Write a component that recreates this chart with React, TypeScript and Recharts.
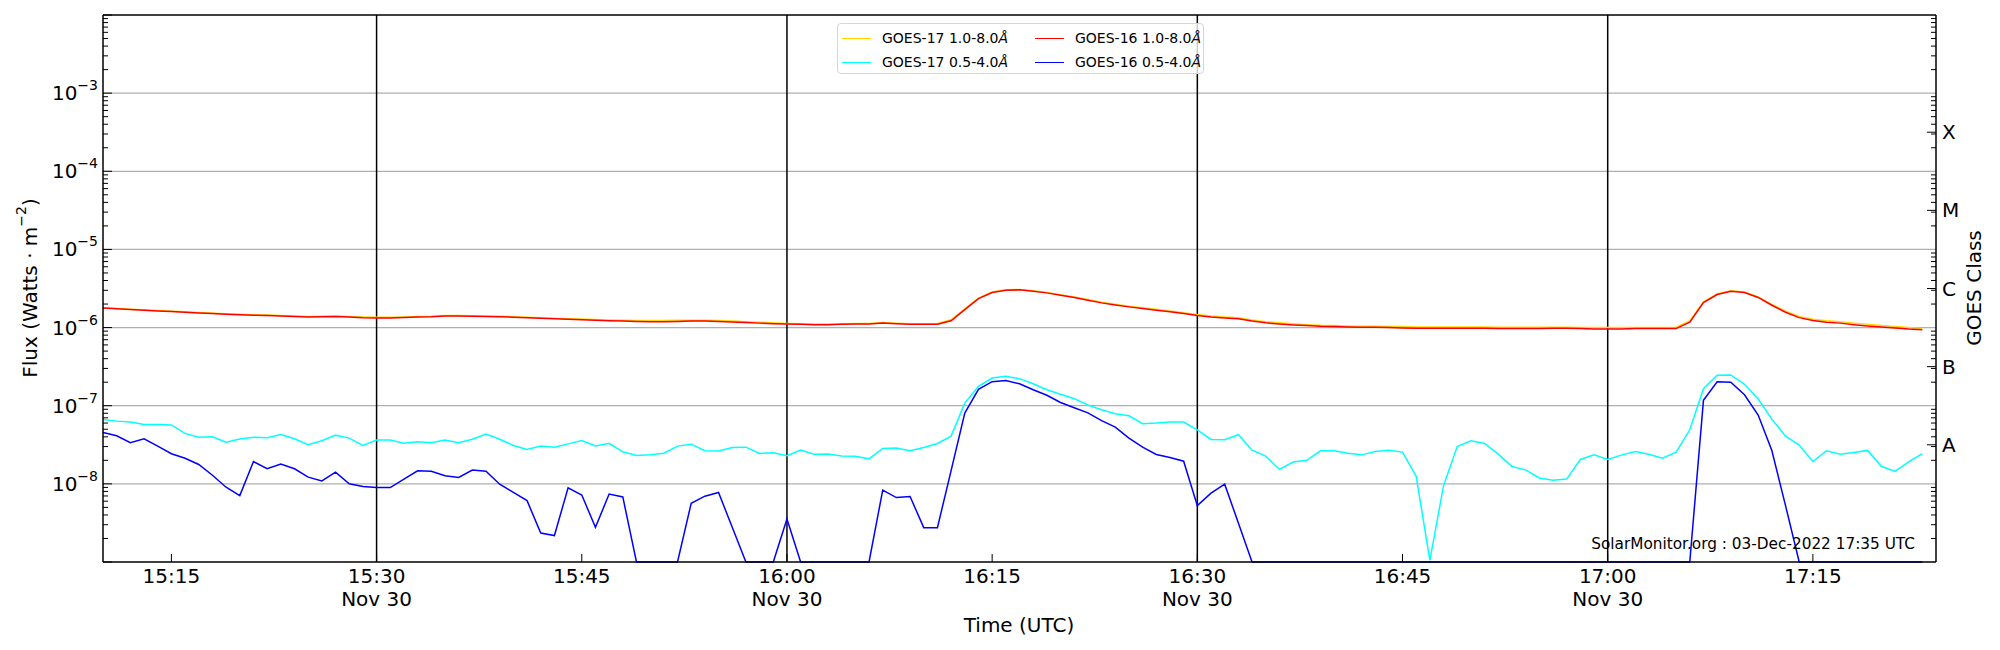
import { LineChart, Line, XAxis, YAxis, ReferenceLine, Legend } from "recharts";

const FONT = "DejaVu Sans, Verdana, sans-serif";

// one sample per minute, starting 15:10 UTC on Nov 30
// 1.0-8.0 Å channels, in units of 1e-6 W m^-2
const goes17Long = [
  1.8, 1.76, 1.72, 1.69, 1.65, 1.62, 1.59, 1.56, 1.53, 1.5, 1.48, 1.46, 1.45, 1.43, 1.41, 1.39, 1.4, 1.41, 1.39, 1.37, 1.36, 1.36, 1.37, 1.39,
  1.4, 1.43, 1.43, 1.42, 1.41, 1.4, 1.38, 1.36, 1.34, 1.32, 1.3, 1.29, 1.27, 1.25, 1.24, 1.23, 1.23, 1.23, 1.24, 1.24, 1.24, 1.23, 1.21, 1.19,
  1.17, 1.15, 1.13, 1.12, 1.11, 1.11, 1.12, 1.13, 1.13, 1.16, 1.14, 1.12, 1.12, 1.13, 1.26, 1.74, 2.38, 2.85, 3.05, 3.07, 2.96, 2.82, 2.64,
  2.47, 2.28, 2.11, 1.99, 1.88, 1.79, 1.71, 1.63, 1.55, 1.47, 1.41, 1.37, 1.34, 1.25, 1.19, 1.15, 1.12, 1.09, 1.07, 1.06, 1.05, 1.04,
  1.04, 1.03, 1.03, 1.02, 1.02, 1.02, 1.02, 1.02, 1.02, 1.01, 1.01, 1.01, 1.01, 1.01, 1.01, 1.0, 1.0, 1.0, 1.0, 1.0, 1.0,
  1.0, 1.01, 1.22, 2.14, 2.7, 2.96, 2.85, 2.47, 1.98, 1.62, 1.39, 1.28, 1.22, 1.19, 1.14, 1.1, 1.06, 1.03, 1.0, 0.97,
];
const goes16Long = [
  1.78, 1.74, 1.7, 1.67, 1.63, 1.6, 1.57, 1.54, 1.51, 1.48, 1.46, 1.44, 1.43, 1.41, 1.39, 1.37, 1.38, 1.39, 1.37, 1.34, 1.33, 1.33, 1.35, 1.37,
  1.38, 1.41, 1.41, 1.4, 1.39, 1.38, 1.36, 1.34, 1.32, 1.3, 1.28, 1.26, 1.24, 1.22, 1.21, 1.2, 1.19, 1.19, 1.2, 1.21, 1.21, 1.2, 1.18, 1.16,
  1.14, 1.12, 1.11, 1.1, 1.09, 1.09, 1.1, 1.11, 1.11, 1.14, 1.12, 1.1, 1.1, 1.1, 1.22, 1.7, 2.35, 2.81, 3.01, 3.04, 2.92, 2.78, 2.6,
  2.43, 2.24, 2.07, 1.95, 1.84, 1.75, 1.67, 1.59, 1.51, 1.43, 1.37, 1.33, 1.3, 1.21, 1.15, 1.11, 1.08, 1.06, 1.04, 1.03, 1.02, 1.01,
  1.01, 1.0, 0.99, 0.98, 0.98, 0.98, 0.98, 0.98, 0.98, 0.97, 0.97, 0.97, 0.97, 0.98, 0.98, 0.97, 0.96, 0.96, 0.96, 0.97, 0.97,
  0.97, 0.97, 1.17, 2.09, 2.65, 2.92, 2.81, 2.43, 1.93, 1.57, 1.34, 1.23, 1.17, 1.14, 1.09, 1.05, 1.02, 0.99, 0.96, 0.94,
];

// 0.5-4.0 Å channels, in units of 1e-8 W m^-2 (0.1 = floor of the plot)
const goes17Short = [
  6.68, 6.35, 6.2, 5.77, 5.77, 5.67, 4.42, 3.96, 4.0, 3.42, 3.74, 3.96, 3.9, 4.28, 3.78, 3.16, 3.56, 4.2, 3.85, 3.1, 3.63, 3.63, 3.3, 3.47,
  3.36, 3.63, 3.37, 3.72, 4.33, 3.72, 3.1, 2.75, 3.04, 2.95, 3.25, 3.59, 3.06, 3.3, 2.57, 2.31, 2.35, 2.47, 3.04, 3.22, 2.65, 2.63, 2.92, 2.95,
  2.45, 2.5, 2.29, 2.7, 2.39, 2.41, 2.27, 2.25, 2.09, 2.84, 2.87, 2.66, 2.92, 3.29, 4.08, 10.8, 17.7, 22.6, 23.8, 22.2, 19.1, 16.0, 14.0,
  12.3, 10.2, 8.9, 7.9, 7.44, 5.88, 6.0, 6.18, 6.18, 4.92, 3.7, 3.67, 4.25, 2.7, 2.26, 1.53, 1.9, 2.0, 2.65, 2.65, 2.47, 2.35,
  2.6, 2.7, 2.55, 1.25, 0.105, 0.95, 3.01, 3.56, 3.29, 2.4, 1.67, 1.51, 1.19, 1.11, 1.15, 2.05, 2.35, 2.05, 2.33, 2.6, 2.39,
  2.13, 2.55, 4.92, 16.5, 24.5, 24.8, 18.8, 12.2, 6.74, 4.08, 3.13, 1.93, 2.65, 2.39, 2.52, 2.68, 1.68, 1.44, 1.91, 2.43,
];
const goes16Short = [
  4.55, 4.12, 3.36, 3.78, 3.04, 2.43, 2.13, 1.77, 1.29, 0.906, 0.708, 1.93, 1.56, 1.79, 1.56, 1.22, 1.09, 1.41, 1.0, 0.924, 0.897, 0.897, 1.15, 1.47,
  1.45, 1.27, 1.21, 1.5, 1.45, 0.99, 0.78, 0.61, 0.235, 0.218, 0.89, 0.72, 0.278, 0.74, 0.68, 0.1, 0.1, 0.1, 0.1, 0.565, 0.695, 0.775, 0.278, 0.1,
  0.1, 0.1, 0.356, 0.1, 0.1, 0.1, 0.1, 0.1, 0.1, 0.83, 0.668, 0.69, 0.275, 0.275, 1.48, 8.05, 16.2, 20.3, 21.0, 19.1, 16.0, 13.6, 11.0,
  9.4, 8.1, 6.43, 5.33, 3.85, 2.95, 2.38, 2.18, 1.95, 0.527, 0.76, 0.99, 0.316, 0.1, 0.1, 0.1, 0.1, 0.1, 0.1, 0.1, 0.1, 0.1,
  0.1, 0.1, 0.1, 0.1, 0.1, 0.1, 0.1, 0.1, 0.1, 0.1, 0.1, 0.1, 0.1, 0.1, 0.1, 0.1, 0.1, 0.1, 0.1, 0.1, 0.1,
  0.1, 0.1, 0.1, 11.7, 20.3, 20.0, 13.8, 7.59, 2.67, 0.527, 0.1, 0.1, 0.1, 0.1, 0.1, 0.1, 0.1, 0.1, 0.1, 0.1,
];

// x axis: minutes after 15:10
const timeTicks = [5, 20, 35, 50, 65, 80, 95, 110, 125];
const timeLabels = ["15:15", "15:30", "15:45", "16:00", "16:15", "16:30", "16:45", "17:00", "17:15"];
const dateTicks = [20, 50, 80, 110];
const dateLabel = "Nov 30";

// y axis
const decades = [-9, -8, -7, -6, -5, -4, -3, -2];
const labelledDecades = [-8, -7, -6, -5, -4, -3];
const minorSteps = [2, 3, 4, 5, 6, 7, 8, 9];
const classExps = [-7.5, -6.5, -5.5, -4.5, -3.5];
const classLabels = ["A", "B", "C", "M", "X"];

const legendEntries = [
  { name: "GOES-17 1.0-8.0", color: "gold" },
  { name: "GOES-16 1.0-8.0", color: "red" },
  { name: "GOES-17 0.5-4.0", color: "cyan" },
  { name: "GOES-16 0.5-4.0", color: "blue" },
];

const data = goes16Long.map((v, i) => ({
  t: i,
  g17Long: goes17Long[i] * 1e-6,
  g16Long: v * 1e-6,
  g17Short: goes17Short[i] * 1e-8,
  g16Short: goes16Short[i] * 1e-8,
}));

const minorTicks = decades.slice(0, -1).flatMap((d) => minorSteps.map((s) => s * 10 ** d));
const fluxTicks = [...decades.map((d) => 10 ** d), ...minorTicks];
const classTicks = [...classExps.map((e) => 10 ** e), ...minorTicks];

const FluxTick = (props: any) => {
  const { x, y, payload } = props;
  const exp = Math.log10(payload.value);
  const e = Math.round(exp);
  const major = Math.abs(exp - e) < 1e-6;
  return (
    <g>
      <line x1={x} y1={y} x2={x + (major ? 9 : 5)} y2={y} stroke="#000" strokeWidth={1} />
      {major && labelledDecades.includes(e) && (
        <text x={x - 5} y={y + 7} textAnchor="end" fontSize={20} fontFamily={FONT} fill="#000">
          10
          <tspan dy={-10} fontSize={14}>
            {"\u2212" + -e}
          </tspan>
        </text>
      )}
    </g>
  );
};

const ClassTick = (props: any) => {
  const { x, y, payload } = props;
  const exp = Math.log10(payload.value);
  const idx = classExps.findIndex((c) => Math.abs(c - exp) < 1e-6);
  return (
    <g>
      <line x1={x} y1={y} x2={x - (idx >= 0 ? 9 : 5)} y2={y} stroke="#000" strokeWidth={1} />
      {idx >= 0 && (
        <text x={x + 6} y={y + 7} fontSize={20} fontFamily={FONT} fill="#000">
          {classLabels[idx]}
        </text>
      )}
    </g>
  );
};

const TimeTick = (props: any) => {
  const { x, y, payload } = props;
  const idx = timeTicks.indexOf(payload.value);
  return (
    <g>
      <line x1={x} y1={y} x2={x} y2={y - 8} stroke="#000" strokeWidth={1} />
      <text x={x} y={y + 21} textAnchor="middle" fontSize={20} fontFamily={FONT} fill="#000">
        {timeLabels[idx]}
      </text>
      {dateTicks.includes(payload.value) && (
        <text x={x} y={y + 44} textAnchor="middle" fontSize={20} fontFamily={FONT} fill="#000">
          {dateLabel}
        </text>
      )}
    </g>
  );
};

const renderLegend = () => (
  <div
    style={{
      width: 367,
      height: 51,
      boxSizing: "border-box",
      border: "1px solid #d6d6d6",
      borderRadius: 4,
      background: "rgba(255,255,255,0.8)",
      display: "grid",
      gridTemplateColumns: "193px 170px",
      padding: "2px 0 0 4px",
      fontFamily: FONT,
      fontSize: 14,
      color: "#000",
    }}
  >
    {legendEntries.map((e) => (
      <div key={e.name} style={{ display: "flex", alignItems: "center", height: 24 }}>
        <span style={{ width: 29, height: 0, borderTop: `1.5px solid ${e.color}`, marginRight: 11 }} />
        <span style={{ whiteSpace: "nowrap" }}>
          {e.name}
          <i>Å</i>
        </span>
      </div>
    ))}
  </div>
);

const frame = { stroke: "#000", strokeWidth: 1.5 };

export default function App() {
  return (
    <div style={{ position: "absolute", left: 0, top: 0, width: 2000, height: 650, background: "#fff" }}>
      <LineChart width={2000} height={650} data={data} margin={{ top: 15, right: 4, bottom: 0, left: 3 }}>
        <XAxis
          dataKey="t"
          type="number"
          domain={[0, 134]}
          ticks={timeTicks}
          interval={0}
          height={88}
          tickSize={0}
          tickMargin={0}
          tickLine={false}
          axisLine={frame}
          tick={<TimeTick />}
        />
        <YAxis
          yAxisId="flux"
          scale="log"
          domain={[1e-9, 1e-2]}
          ticks={fluxTicks}
          interval={0}
          width={100}
          tickSize={0}
          tickMargin={0}
          tickLine={false}
          axisLine={frame}
          tick={<FluxTick />}
        />
        <YAxis
          yAxisId="class"
          orientation="right"
          scale="log"
          domain={[1e-9, 1e-2]}
          allowDataOverflow
          ticks={classTicks}
          interval={0}
          width={60}
          tickSize={0}
          tickMargin={0}
          tickLine={false}
          axisLine={frame}
          tick={<ClassTick />}
        />
        {decades.slice(1, -1).map((d) => (
          <ReferenceLine key={d} yAxisId="flux" y={10 ** d} stroke="#b0b0b0" strokeWidth={1.2} />
        ))}
        <ReferenceLine yAxisId="flux" y={1e-2} stroke="#000" strokeWidth={1.5} />
        {dateTicks.map((t) => (
          <ReferenceLine key={t} yAxisId="flux" x={t} stroke="#000" strokeWidth={1.5} />
        ))}
        <Line yAxisId="flux" dataKey="g17Long" stroke="gold" strokeWidth={1.5} dot={false} isAnimationActive={false} />
        <Line yAxisId="flux" dataKey="g17Short" stroke="cyan" strokeWidth={1.5} dot={false} isAnimationActive={false} />
        <Line yAxisId="flux" dataKey="g16Long" stroke="red" strokeWidth={1.5} dot={false} isAnimationActive={false} />
        <Line yAxisId="flux" dataKey="g16Short" stroke="blue" strokeWidth={1.5} dot={false} isAnimationActive={false} />
        <Legend
          layout="vertical"
          align="center"
          verticalAlign="middle"
          content={renderLegend}
          wrapperStyle={{ left: 837, top: 23, width: 367, height: 51 }}
        />
      </LineChart>
      <svg
        width={2000}
        height={650}
        style={{ position: "absolute", left: 0, top: 0, pointerEvents: "none" }}
        fontFamily={FONT}
      >
        <text transform="translate(30,288) rotate(-90)" textAnchor="middle" dominantBaseline="central" fontSize={20}>
          Flux (Watts · m
          <tspan dy={-9} fontSize={14}>
            −2
          </tspan>
          <tspan dy={9}>)</tspan>
        </text>
        <text transform="translate(1974,288) rotate(-90)" textAnchor="middle" dominantBaseline="central" fontSize={20}>
          GOES Class
        </text>
        <text x={1019} y={632} textAnchor="middle" fontSize={20}>
          Time (UTC)
        </text>
        <text x={1915} y={549} textAnchor="end" fontSize={15.3}>
          SolarMonitor.org : 03-Dec-2022 17:35 UTC
        </text>
      </svg>
    </div>
  );
}
